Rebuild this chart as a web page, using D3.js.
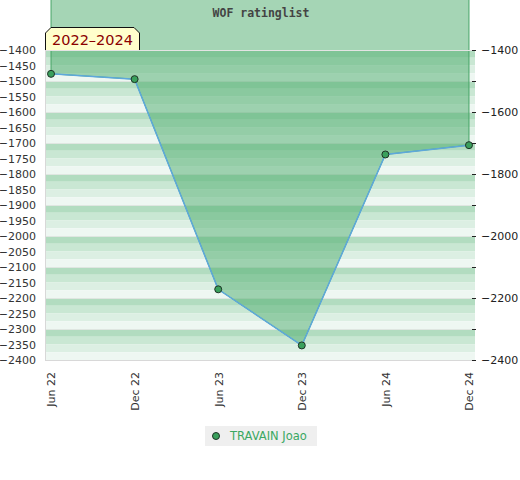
<!DOCTYPE html>
<html>
<head>
<meta charset="utf-8">
<script src="https://cdn.jsdelivr.net/npm/d3@7"></script>
<style>
  body { margin: 0; background: #fff; }
</style>
</head>
<body>
<div id="chart"></div>
<script>
const w = 520; //Width
const h = 480; //Height
const plot = { left: 45, right: 475, top: 50, bottom: 360 };

// data
const periods = ["Jun 22", "Dec 22", "Jun 23", "Dec 23", "Jun 24", "Dec 24"];
const ratings = [-1477, -1494, -2172, -2353, -1737, -1707];
const leftTicks = [-1400, -1450, -1500, -1550, -1600, -1650, -1700, -1750, -1800, -1850, -1900,
                   -1950, -2000, -2050, -2100, -2150, -2200, -2250, -2300, -2350, -2400];
const rightTicks = [-1400, -1500, -1600, -1700, -1800, -1900, -2000, -2100, -2200, -2300, -2400];
const rightLabels = [-1400, -1600, -1800, -2000, -2200, -2400];
const yDomain = [-2400, -1400];
const areaCeiling = -1228;
const title = "WOF ratinglist";
const rangeLabel = "2022–2024";
const playerName = "TRAVAIN Joao";

const stripeColors = ["#b2dcc0", "#c9e7d3", "#dcefe3", "#eef7f2"];

const dataset = periods.map((p, i) => ({ period: p, rating: ratings[i] }));

const xScale = d3.scalePoint()
                 .domain(periods)
                 .range([plot.left, plot.right])
                 .padding(0.072);

const yScale = d3.scaleLinear()
                 .domain(yDomain)
                 .range([plot.bottom, plot.top]);

//Create SVG element
const svg = d3.select("#chart")
              .append("svg")
              .attr("width", w)
              .attr("height", h)
              .attr("font-family", "DejaVu Sans, sans-serif");

//Background stripes, 4 bands per 100 points
const bands = d3.range(yDomain[1], yDomain[0], -25);
svg.append("g")
  .selectAll("rect")
  .data(bands)
  .join("rect")
  .attr("x", plot.left)
  .attr("width", plot.right - plot.left)
  .attr("y", d => yScale(d))
  .attr("height", d => yScale(d - 25) - yScale(d))
  .attr("fill", (d, i) => stripeColors[i % 4]);

//Grid lines
svg.append("g")
  .selectAll("line")
  .data(rightTicks)
  .join("line")
  .attr("x1", plot.left)
  .attr("x2", plot.right)
  .attr("y1", d => yScale(d) + 0.5)
  .attr("y2", d => yScale(d) + 0.5)
  .attr("stroke", "#dfe6e1")
  .attr("stroke-width", 1);

//Area above the line
const area = d3.area()
               .x(d => xScale(d.period))
               .y0(yScale(areaCeiling))
               .y1(d => yScale(d.rating));

svg.append("path")
  .datum(dataset)
  .attr("d", area)
  .attr("fill", "rgb(75,171,107)")
  .attr("fill-opacity", 0.5)
  .attr("stroke", "#46a566")
  .attr("stroke-width", 1);

//Plot borders
svg.append("line")
  .attr("x1", plot.left).attr("x2", plot.right)
  .attr("y1", plot.top + 0.5).attr("y2", plot.top + 0.5)
  .attr("stroke", "#e4e4e4");
svg.append("line")
  .attr("x1", plot.left).attr("x2", plot.right)
  .attr("y1", plot.bottom + 0.5).attr("y2", plot.bottom + 0.5)
  .attr("stroke", "#d8d8d8");
svg.append("line")
  .attr("x1", plot.left + 0.5).attr("x2", plot.left + 0.5)
  .attr("y1", plot.top).attr("y2", plot.bottom)
  .attr("stroke", "#d8d8d8");

//Line
const line = d3.line()
               .x(d => xScale(d.period))
               .y(d => yScale(d.rating));

svg.append("path")
  .datum(dataset)
  .attr("d", line)
  .attr("fill", "none")
  .attr("stroke", "#5ea8dc")
  .attr("stroke-width", 1.5);

//Points
svg.append("g")
  .selectAll("circle")
  .data(dataset)
  .join("circle")
  .attr("cx", d => xScale(d.period))
  .attr("cy", d => yScale(d.rating))
  .attr("r", 3.5)
  .attr("fill", "#3aa05c")
  .attr("stroke", "#1e3326")
  .attr("stroke-width", 1);

//Left axis
const yAxisLeft = d3.axisLeft(yScale)
                    .tickValues(leftTicks)
                    .tickSize(0)
                    .tickPadding(9)
                    .tickFormat(d3.format("d"));

const gl = svg.append("g")
  .attr("transform", "translate(" + plot.left + ",0)")
  .call(yAxisLeft);
gl.select(".domain").remove();
gl.selectAll("text")
  .attr("font-size", "11px")
  .attr("font-family", "DejaVu Sans")
  .attr("fill", "#333");

//Right axis
const yAxisRight = d3.axisRight(yScale)
                     .tickValues(rightTicks)
                     .tickSize(4)
                     .tickPadding(5)
                     .tickFormat(d => rightLabels.includes(d) ? d3.format("d")(d) : "");

const gr = svg.append("g")
  .attr("transform", "translate(" + (plot.right - 3) + ",0)")
  .call(yAxisRight);
gr.select(".domain").remove();
gr.selectAll("line").attr("stroke", "#222");
gr.selectAll("text")
  .attr("font-size", "11px")
  .attr("font-family", "DejaVu Sans")
  .attr("fill", "#222");

//Bottom axis
const xAxis = d3.axisBottom(xScale).tickSize(0).tickPadding(0);
const gx = svg.append("g")
  .attr("transform", "translate(0," + plot.bottom + ")")
  .call(xAxis);
gx.select(".domain").remove();
gx.selectAll("text")
  .attr("font-size", "11px")
  .attr("font-family", "DejaVu Sans")
  .attr("fill", "#333")
  .attr("text-anchor", "end")
  .attr("dy", "0.35em")
  .attr("transform", "translate(0,12) rotate(-90)")
  .attr("x", 0)
  .attr("y", 0);

//Title
svg.append("text")
  .attr("x", (plot.left + plot.right) / 2 + 1)
  .attr("y", 17)
  .attr("text-anchor", "middle")
  .attr("font-family", "DejaVu Sans Mono, monospace")
  .attr("font-weight", "bold")
  .attr("font-size", "11.5px")
  .attr("fill", "#444")
  .text(title);

//Range label box
const bx = plot.left, by = 27, bw = 95, bh = plot.top - by, cut = 6;
svg.append("path")
  .attr("d", `M${bx + 0.5},${by + bh} L${bx + 0.5},${by + cut} L${bx + cut},${by + 0.5} L${bx + bw - cut},${by + 0.5} L${bx + bw - 0.5},${by + cut} L${bx + bw - 0.5},${by + bh}`)
  .attr("fill", "#ffffcc")
  .attr("stroke", "#111")
  .attr("stroke-width", 1);
svg.append("text")
  .attr("x", bx + bw / 2)
  .attr("y", by + 18)
  .attr("text-anchor", "middle")
  .attr("font-size", "14.5px")
  .attr("fill", "#8b0000")
  .text(rangeLabel);

//Legend
const legend = svg.append("g").attr("transform", "translate(205,426)");
legend.append("rect")
  .attr("width", 112)
  .attr("height", 20)
  .attr("fill", "#efefef");
legend.append("circle")
  .attr("cx", 11)
  .attr("cy", 10)
  .attr("r", 3.5)
  .attr("fill", "#3aa05c")
  .attr("stroke", "#1e3326");
legend.append("text")
  .attr("x", 25)
  .attr("y", 14)
  .attr("font-size", "11.5px")
  .attr("fill", "#3aa862")
  .text(playerName);
</script>
</body>
</html>
